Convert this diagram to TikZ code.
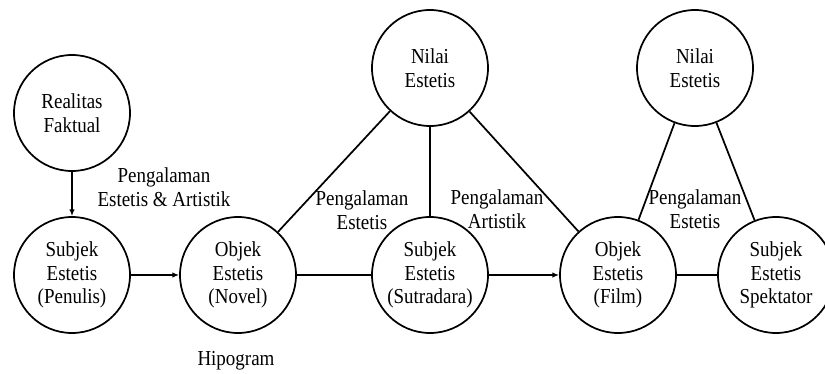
\documentclass[tikz,border=0pt]{standalone}
\usepackage{fontspec}
\setmainfont[FakeStretch=0.89]{Liberation Serif}
\usetikzlibrary{arrows.meta}
\begin{document}
\begin{tikzpicture}[x=0.75pt,y=-0.75pt,
  circ/.style={circle,draw,line width=1.3pt,minimum size=87pt,inner sep=0pt,align=center,font=\fontsize{16}{17.6}\selectfont},
  lbl/.style={align=center,font=\fontsize{16}{17.6}\selectfont},
  conn/.style={line width=1.3pt},
  arr/.style={conn,-{Latex[length=5pt,width=4pt]}}]
\useasboundingbox (0,0) rectangle (825,374);
\node[circ] (real) at (72,113) {Realitas\\Faktual};
\node[circ] (pen) at (72,275) {Subjek\\Estetis\\(Penulis)};
\node[circ] (nov) at (238,275) {Objek\\Estetis\\(Novel)};
\node[circ] (sut) at (430,275) {Subjek\\Estetis\\(Sutradara)};
\node[circ] (nil1) at (430,68) {Nilai\\Estetis};
\node[circ] (film) at (618,275) {Objek\\Estetis\\(Film)};
\node[circ] (nil2) at (695,68) {Nilai\\Estetis};
\node[circ] (spek) at (776,275) {Subjek\\Estetis\\Spektator};
\node[lbl] (l1) at (164,187) {Pengalaman\\Estetis \& Artistik};
\node[lbl] (l2) at (362,210) {Pengalaman\\Estetis};
\node[lbl] (l3) at (497,209) {Pengalaman\\Artistik};
\node[lbl] (l4) at (695,209) {Pengalaman\\Estetis};
\node[lbl] (hip) at (236,361) {Hipogram};
\draw[arr] (real) -- (pen);
\draw[arr] (pen) -- (nov);
\draw[conn] (nov) -- (sut);
\draw[arr] (sut) -- (film);
\draw[conn] (film) -- (spek);
\draw[conn] (nil1) -- (nov);
\draw[conn] (nil1) -- (sut);
\draw[conn] (nil1) -- (film);
\draw[conn] (nil2) -- (film);
\draw[conn] (nil2) -- (spek);
\end{tikzpicture}
\end{document}
